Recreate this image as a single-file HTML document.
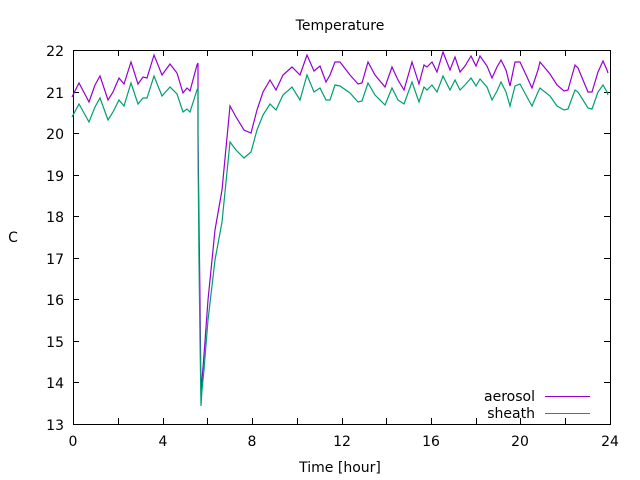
<!DOCTYPE html><html><head><style>body{margin:0;background:#fff}svg{display:block;font-family:"DejaVu Sans",sans-serif}</style></head><body>
<svg width="640" height="480" xmlns="http://www.w3.org/2000/svg">
<rect width="640" height="480" fill="#fff"/>
<text x="340" y="30" font-size="14" text-anchor="middle">Temperature</text>
<g stroke="#000" stroke-width="1" fill="none">
<rect x="73.5" y="50.5" width="537" height="374"/>
<path d="M73 92.5h6M73 133.5h6M73 175.5h6M73 216.5h6M73 258.5h6M73 299.5h6M73 341.5h6M73 382.5h6M610 92.5h-6M610 133.5h-6M610 175.5h-6M610 216.5h-6M610 258.5h-6M610 299.5h-6M610 341.5h-6M610 382.5h-6"/>
<path d="M118.5 424v-6M163.5 424v-6M207.5 424v-6M252.5 424v-6M297.5 424v-6M342.5 424v-6M386.5 424v-6M431.5 424v-6M476.5 424v-6M520.5 424v-6M565.5 424v-6M118.5 50v6M163.5 50v6M207.5 50v6M252.5 50v6M297.5 50v6M342.5 50v6M386.5 50v6M431.5 50v6M476.5 50v6M520.5 50v6M565.5 50v6"/>
</g>
<g font-size="14" text-anchor="end">
<text x="64" y="56">22</text><text x="64" y="98">21</text><text x="64" y="139">20</text><text x="64" y="181">19</text><text x="64" y="222">18</text><text x="64" y="264">17</text><text x="64" y="305">16</text><text x="64" y="347">15</text><text x="64" y="388">14</text><text x="64" y="430">13</text>
</g>
<g font-size="14" text-anchor="middle">
<text x="73" y="446">0</text><text x="163" y="446">4</text><text x="252" y="446">8</text><text x="342" y="446">12</text><text x="431" y="446">16</text><text x="520" y="446">20</text><text x="610" y="446">24</text>
<text x="340" y="472">Time [hour]</text>
<text x="13" y="242">C</text>
</g>
<g fill="none" stroke-width="1.2">
<polyline stroke="#9400d3" points="72,97 79,83 89,102 95,85 100,76 108,100 113,92 119,78 124,84 131,62 138,84 143,77 147,78 154,55 162,75 170,64 177,73 183,93 187,88 190,91 197,65 198,63 198,134 199,220 200,300 201,395 202,380 204,355 208,300 215,230 222,190 230,106 236,117 244,130 251,133 257,110 263,92 270,80 276,90 283,75 292,67 300,75 307,55 314,71 320,66 326,82 330,75 335,62 340,62 350,75 358,84 362,83 368,62 375,75 385,87 392,67 398,80 404,90 412,62 419,84 424,65 427,67 432,62 437,72 443,52 450,70 455,57 460,72 465,66 471,56 476,66 480,56 487,66 492,78 497,67 501,60 506,70 510,86 515,62 520,62 527,77 532,88 538,70 540,62 550,74 557,85 564,91 568,90 575,65 578,68 588,92 592,92 598,72 603,61 607,70 608,73"/>
<polyline stroke="#009e73" points="72,117 79,104 89,122 95,107 100,98 108,120 113,112 119,100 124,106 131,83 138,104 143,98 147,98 154,76 162,96 170,87 177,94 183,112 187,109 190,112 197,90 198,88 198,150 199,260 200,340 201,406 202,390 204,370 208,320 215,260 222,222 230,142 236,150 244,158 251,152 257,130 263,115 270,104 276,110 283,95 292,87 300,100 307,75 314,92 320,88 326,100 330,100 335,85 340,86 350,93 358,102 362,101 368,83 375,95 385,105 392,88 398,100 404,104 412,82 419,102 424,87 427,90 432,85 437,92 443,76 450,90 455,80 460,90 465,85 471,78 476,86 480,79 487,87 492,100 497,91 501,82 506,92 510,106 515,86 520,84 527,97 532,106 538,92 540,88 550,96 557,106 564,110 568,109 575,90 578,92 588,108 592,109 598,92 603,85 607,92 608,95"/>
</g>
<g font-size="14" text-anchor="end">
<text x="535" y="401">aerosol</text><text x="535" y="418">sheath</text>
</g>
<path d="M545 396.5h45" stroke="#9400d3"/><path d="M545 413.5h45" stroke="#009e73"/>
</svg></body></html>
